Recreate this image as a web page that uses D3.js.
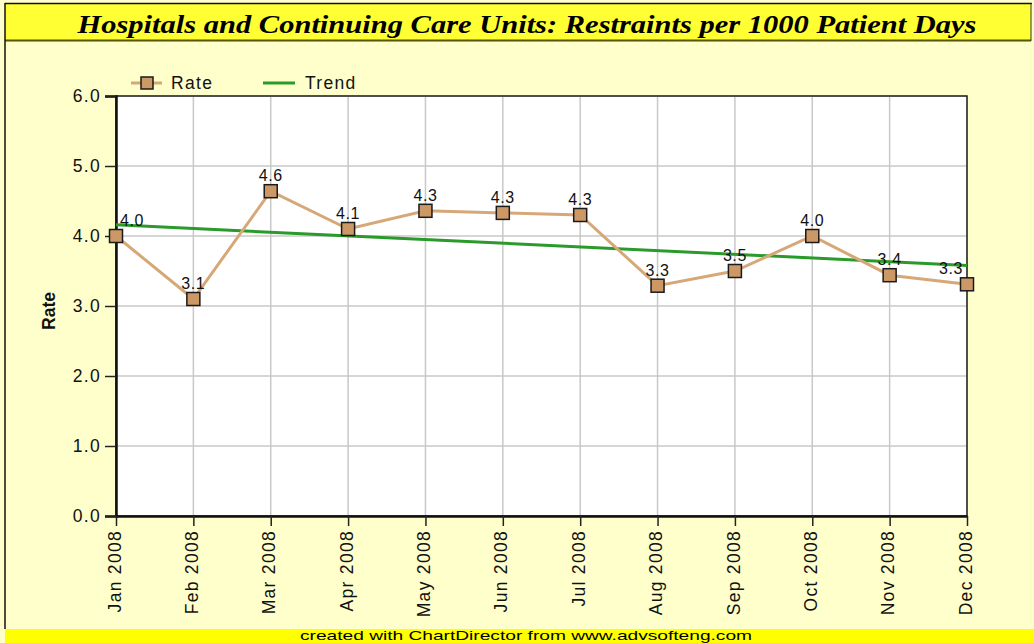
<!DOCTYPE html>
<html>
<head>
<meta charset="utf-8">
<script src="https://cdn.jsdelivr.net/npm/d3@7"></script>
<style>
  html, body { margin: 0; padding: 0; background: #ffffcc; }
  svg { display: block; }
</style>
</head>
<body>
<div id="chart"></div>
<script>
// chart data
const months = ["Jan 2008", "Feb 2008", "Mar 2008", "Apr 2008", "May 2008", "Jun 2008",
                "Jul 2008", "Aug 2008", "Sep 2008", "Oct 2008", "Nov 2008", "Dec 2008"];
const rates = [4.0, 3.1, 4.64, 4.1, 4.36, 4.33, 4.3, 3.29, 3.5, 4.0, 3.44, 3.31];
const rateLabels = ["4.0", "3.1", "4.6", "4.1", "4.3", "4.3", "4.3", "3.3", "3.5", "4.0", "3.4", "3.3"];
const trendEnds = [4.16, 3.58];   // trend line at first and last month
const yTicks = [0, 1, 2, 3, 4, 5, 6];

const W = 1034, H = 643;
const plot = { left: 116, right: 967, top: 96, bottom: 516 };

const svg = d3.select("#chart").append("svg")
    .attr("width", W)
    .attr("height", H);

// background
svg.append("rect").attr("width", W).attr("height", H).attr("fill", "#ffffcc");

// title bar
svg.append("rect")
    .attr("x", 5).attr("y", 4).attr("width", 1026).attr("height", 36)
    .attr("fill", "#ffff33");
svg.append("line")
    .attr("x1", 5).attr("x2", 1031).attr("y1", 40.5).attr("y2", 40.5)
    .attr("stroke", "#555500").attr("stroke-width", 2);
svg.append("line")
    .attr("x1", 5).attr("x2", 1032).attr("y1", 3.5).attr("y2", 3.5)
    .attr("stroke", "#111").attr("stroke-width", 1.5);
svg.append("line")
    .attr("x1", 1031).attr("x2", 1031).attr("y1", 3).attr("y2", 41)
    .attr("stroke", "#333").attr("stroke-width", 1);
svg.append("text")
    .attr("x", 527).attr("y", 33)
    .attr("text-anchor", "middle")
    .attr("font-family", "Liberation Serif, Times New Roman, serif")
    .attr("font-style", "italic")
    .attr("font-weight", "bold")
    .attr("font-size", 25)
    .attr("textLength", 899)
    .attr("lengthAdjust", "spacingAndGlyphs")
    .text("Hospitals and Continuing Care Units: Restraints per 1000 Patient Days");

// left border
svg.append("line")
    .attr("x1", 5).attr("x2", 5).attr("y1", 3).attr("y2", 629)
    .attr("stroke", "#111").attr("stroke-width", 1.5);

// footer
svg.append("rect")
    .attr("x", 5).attr("y", 629).attr("width", W - 5).attr("height", 14)
    .attr("fill", "#ffff00");
svg.append("text")
    .attr("x", 526).attr("y", 640)
    .attr("text-anchor", "middle")
    .attr("font-family", "Liberation Sans Narrow, Liberation Sans, Arial, sans-serif")
    .attr("font-size", 13.5)
    .attr("textLength", 452)
    .attr("lengthAdjust", "spacingAndGlyphs")
    .text("created with ChartDirector from www.advsofteng.com");

// scales
const x = d3.scalePoint().domain(months).range([plot.left, plot.right]);
const y = d3.scaleLinear().domain([0, 6]).range([plot.bottom, plot.top]);

const font = "Liberation Sans, Arial, sans-serif";

// plot area
svg.append("rect")
    .attr("x", plot.left).attr("y", plot.top)
    .attr("width", plot.right - plot.left).attr("height", plot.bottom - plot.top)
    .attr("fill", "#ffffff");

// grid
const grid = svg.append("g").attr("stroke", "#c8c8c8").attr("stroke-width", 1.5);
grid.selectAll(".hg").data(yTicks).enter().append("line")
    .attr("x1", plot.left).attr("x2", plot.right)
    .attr("y1", d => y(d)).attr("y2", d => y(d));
grid.selectAll(".vg").data(months).enter().append("line")
    .attr("x1", d => x(d)).attr("x2", d => x(d))
    .attr("y1", plot.top).attr("y2", plot.bottom);

// plot border
svg.append("rect")
    .attr("x", plot.left).attr("y", plot.top)
    .attr("width", plot.right - plot.left).attr("height", plot.bottom - plot.top)
    .attr("fill", "none").attr("stroke", "#222").attr("stroke-width", 1.5);

// y axis
const yAxis = svg.append("g")
    .attr("transform", `translate(${plot.left},0)`)
    .call(d3.axisLeft(y).tickValues(yTicks).tickFormat(d3.format(".1f")).tickSize(11).tickPadding(4));
yAxis.select(".domain").attr("stroke", "#111").attr("stroke-width", 2.5);
yAxis.selectAll(".tick line").attr("stroke", "#222").attr("stroke-width", 1.5);
yAxis.selectAll("text")
    .attr("fill", "#111")
    .style("font-family", font)
    .style("font-size", "17.5px")
    .style("letter-spacing", "1.3px");

// x axis
const xAxis = svg.append("g")
    .attr("transform", `translate(0,${plot.bottom})`)
    .call(d3.axisBottom(x).tickSize(10).tickSizeOuter(0));
xAxis.select(".domain").attr("stroke", "#111").attr("stroke-width", 2.5);
xAxis.selectAll(".tick line").attr("stroke", "#222").attr("stroke-width", 1.5);
xAxis.selectAll("text")
    .attr("fill", "#111")
    .attr("transform", "rotate(-90)")
    .attr("text-anchor", "end")
    .attr("x", -14)
    .attr("y", -2)
    .attr("dy", "0.35em")
    .style("font-family", font)
    .style("font-size", "17.5px")
    .style("letter-spacing", "1.3px");

// y axis title
svg.append("text")
    .attr("transform", "translate(55,311) rotate(-90)")
    .attr("text-anchor", "middle")
    .attr("font-family", font)
    .attr("font-weight", "bold")
    .attr("font-size", 17.5)
    .attr("fill", "#111")
    .text("Rate");

// trend line
svg.append("line")
    .attr("x1", x(months[0])).attr("y1", y(trendEnds[0]))
    .attr("x2", x(months[months.length - 1])).attr("y2", y(trendEnds[1]))
    .attr("stroke", "#2a9a2a").attr("stroke-width", 3);

// rate line
const line = d3.line().x((d, i) => x(months[i])).y(d => y(d));
svg.append("path")
    .datum(rates)
    .attr("d", line)
    .attr("fill", "none")
    .attr("stroke", "#d6a878")
    .attr("stroke-width", 3);

// markers
svg.selectAll(".mk").data(rates).enter().append("rect")
    .attr("x", (d, i) => x(months[i]) - 6.5)
    .attr("y", d => y(d) - 6.5)
    .attr("width", 13).attr("height", 13)
    .attr("fill", "#cc9966")
    .attr("stroke", "#1a1a1a")
    .attr("stroke-width", 1.5);

// value labels, kept inside plot area
const labels = svg.selectAll(".lbl").data(rates).enter().append("text")
    .attr("text-anchor", "middle")
    .attr("font-family", font)
    .attr("font-size", 16)
    .attr("letter-spacing", "0.6px")
    .attr("fill", "#111")
    .attr("y", d => y(d) - 10)
    .text((d, i) => rateLabels[i]);
labels.attr("x", function(d, i) {
    const w = this.getComputedTextLength();
    const px = x(months[i]);
    return Math.max(plot.left + w / 2 + 4, Math.min(plot.right - w / 2 - 4, px));
});

// legend
const lg = svg.append("g").attr("font-family", font).attr("font-size", 17.5)
    .attr("letter-spacing", "1.3px").attr("fill", "#111");
lg.append("line").attr("x1", 131).attr("x2", 162).attr("y1", 83).attr("y2", 83)
    .attr("stroke", "#d6a878").attr("stroke-width", 3);
lg.append("rect").attr("x", 141).attr("y", 77).attr("width", 12).attr("height", 12)
    .attr("fill", "#cc9966").attr("stroke", "#1a1a1a").attr("stroke-width", 1.5);
lg.append("text").attr("x", 171).attr("y", 83).attr("dy", "0.35em").text("Rate");
lg.append("line").attr("x1", 263).attr("x2", 295).attr("y1", 83).attr("y2", 83)
    .attr("stroke", "#2a9a2a").attr("stroke-width", 3);
lg.append("text").attr("x", 305).attr("y", 83).attr("dy", "0.35em").text("Trend");
</script>
</body>
</html>
